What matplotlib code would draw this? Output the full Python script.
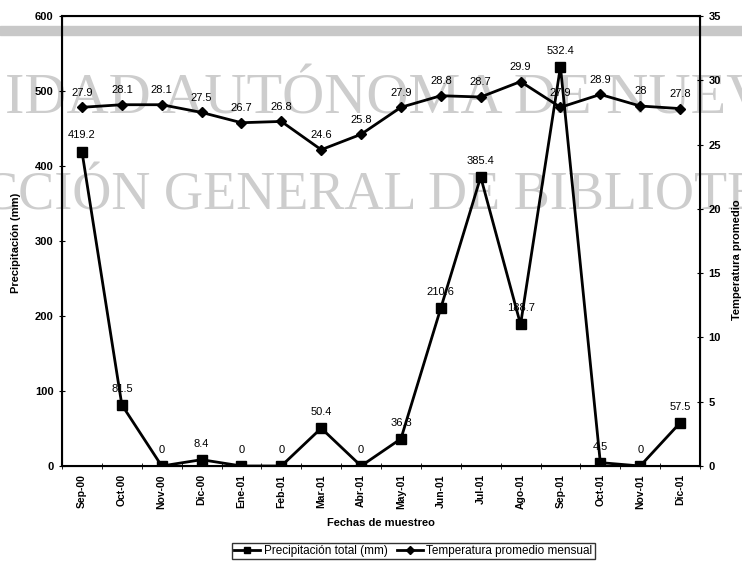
import matplotlib.pyplot as plt
from matplotlib.patches import Rectangle
import numpy as np

# datos
meses = ['Sep-00', 'Oct-00', 'Nov-00', 'Dic-00', 'Ene-01', 'Feb-01', 'Mar-01', 'Abr-01',
         'May-01', 'Jun-01', 'Jul-01', 'Ago-01', 'Sep-01', 'Oct-01', 'Nov-01', 'Dic-01']
precipitacion = [419.2, 81.5, 0, 8.4, 0, 0, 50.4, 0, 36.3, 210.6, 385.4, 188.7, 532.4, 4.5, 0, 57.5]
temperatura = [27.9, 28.1, 28.1, 27.5, 26.7, 26.8, 24.6, 25.8, 27.9, 28.8, 28.7, 29.9, 27.9, 28.9, 28, 27.8]

plt.rcParams['font.family'] = ['Liberation Sans', 'DejaVu Sans']

fig = plt.figure(figsize=(7.42, 5.66), dpi=100)
ax1 = fig.add_axes([0.0836, 0.1767, 0.8598, 0.795])
x = np.arange(len(meses))

def fmt(v):
    return ('%g' % v)

# Precipitacion
l1, = ax1.plot(x, precipitacion, color='black', lw=2, marker='s', ms=7,
               label='Precipitación total (mm)', zorder=4)
for xi, v in zip(x, precipitacion):
    ax1.annotate(fmt(v), (xi, v), xytext=(0, 8), textcoords='offset points',
                 ha='center', va='bottom', fontsize=8, zorder=5)

ax1.set_ylim(0, 600)
ax1.set_yticks(range(0, 601, 100))
ax1.set_xlim(-0.5, len(meses) - 0.5)
ax1.set_xticks(x)
ax1.set_xticklabels(meses, rotation=90, fontsize=7.5, fontweight='bold')
ax1.set_xticks(np.arange(-0.5, len(meses), 1), minor=True)
ax1.tick_params(axis='x', which='major', length=0, pad=6)
ax1.tick_params(axis='x', which='minor', length=4, direction='inout')
ax1.tick_params(axis='y', labelsize=8, direction='inout', length=5)
for lab in ax1.get_yticklabels():
    lab.set_fontweight('bold')
ax1.set_xlabel('Fechas de muestreo', fontsize=8, fontweight='bold', labelpad=6)
for sp in ax1.spines.values():
    sp.set_linewidth(1.5)

# Temperatura
ax2 = ax1.twinx()
l2, = ax2.plot(x, temperatura, color='black', lw=2, marker='D', ms=5.5,
               label='Temperatura promedio mensual', zorder=4)
for xi, v in zip(x, temperatura):
    ax2.annotate(fmt(v), (xi, v), xytext=(0, 7), textcoords='offset points',
                 ha='center', va='bottom', fontsize=8, zorder=5)
ax2.set_ylim(0, 35)
ax2.set_yticks(range(0, 36, 5))
ax2.tick_params(axis='y', labelsize=8, direction='inout', length=5)
for lab in ax2.get_yticklabels():
    lab.set_fontweight('bold')

fig.text(0.021, 1 - 243 / 566, 'Precipitación (mm)', rotation=90, ha='center', va='center',
         fontsize=8, fontweight='bold')
fig.text(0.993, 1 - 320 / 566, 'Temperatura promedio', rotation=90, ha='center', va='bottom',
         fontsize=8, fontweight='bold')

leg = fig.legend(handles=[l1, l2], loc='center', bbox_to_anchor=(0.557, 1 - 551 / 566),
                 ncol=2, fontsize=8.5, frameon=True, fancybox=False, edgecolor='black',
                 handlelength=2.2, handletextpad=0.3, columnspacing=0.8,
                 borderpad=0.2, markerscale=0.7)
leg.get_frame().set_linewidth(1)

# marca de agua del escaneo
fig.patches.append(Rectangle((0, 1 - 35 / 566), 1, 9 / 566, transform=fig.transFigure,
                             color='#c8c8c8', zorder=0))
fig.text(5 / 742, 1 - 114 / 566, 'IDAD AUTÓNOMA DE NUEV', fontsize=42,
         family='Liberation Serif', color='#cdcdcd', ha='left', va='baseline', zorder=0)
fig.text(-18 / 742, 1 - 210 / 566, 'CCIÓN GENERAL DE BIBLIOTE', fontsize=39,
         family='Liberation Serif', color='#cdcdcd', ha='left', va='baseline', zorder=0)
ax1.set_zorder(1)
ax2.set_zorder(2)
ax1.patch.set_alpha(0)
ax2.patch.set_alpha(0)

fig.savefig('out.png', dpi=100)
